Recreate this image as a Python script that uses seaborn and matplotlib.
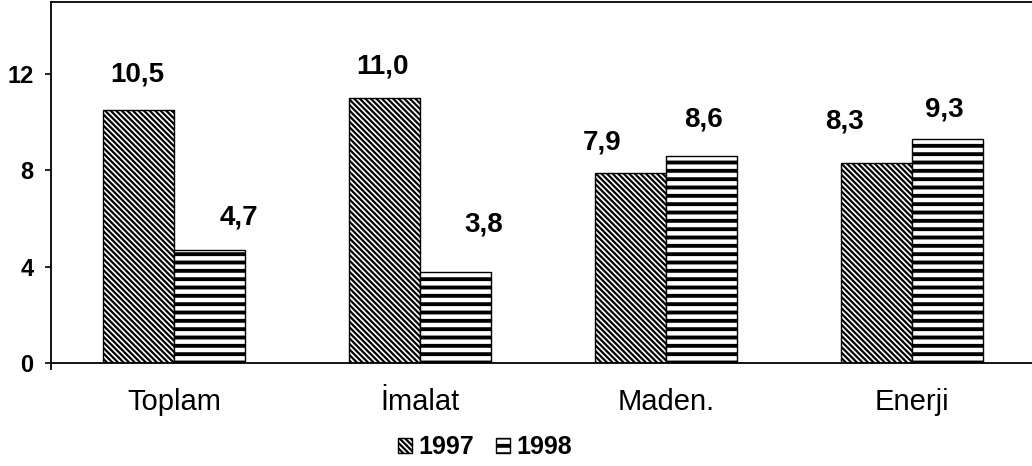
import numpy as np
import pandas as pd
import matplotlib
matplotlib.use('Agg')
from matplotlib import pyplot as plt
import seaborn as sns

sns.set_style('ticks')
plt.rcParams['font.family'] = ['Liberation Sans', 'DejaVu Sans']
plt.rcParams['text.color'] = 'black'
plt.rcParams['xtick.color'] = 'black'
plt.rcParams['ytick.color'] = 'black'
plt.rcParams['hatch.color'] = 'black'

categories = ['Toplam', 'İmalat', 'Maden.', 'Enerji']
years = ['1997', '1998']
v1997 = [10.5, 11.0, 7.9, 8.3]
v1998 = [4.7, 3.8, 8.6, 9.3]
yticks = [0, 4, 8, 12]

# label offsets (pixels) relative to the top centre of each bar
off1997 = [(-1, 29), (-2, 25), (-28, 23), (-32, 35)]
off1998 = [(29, 25), (28, 40), (2, 30), (-3, 23)]

df = pd.DataFrame({
    'kategori': categories * 2,
    'yil': [years[0]] * 4 + [years[1]] * 4,
    'deger': v1997 + v1998,
})

fig = plt.figure(figsize=(10.32, 4.66), dpi=100)
ax = fig.add_axes([51 / 1032, 103 / 466, 984 / 1032, 361 / 466])

sns.barplot(data=df, x='kategori', y='deger', hue='yil', order=categories,
            hue_order=years, palette=['white', 'white'], width=0.58, gap=0,
            edgecolor='black', linewidth=1.0, legend=False, ax=ax)

hatches = ['\\' * 6, '--']
hatch_lw = [1.6, 2.8]
for cont, h, lw in zip(ax.containers, hatches, hatch_lw):
    for p in cont.patches:
        p.set_hatch(h)
        if hasattr(p, 'set_hatch_linewidth'):
            p.set_hatch_linewidth(lw)

for cont, vals, offs in zip(ax.containers, [v1997, v1998], [off1997, off1998]):
    for p, v, (dx, dy) in zip(cont.patches, vals, offs):
        ax.annotate(f'{v:.1f}'.replace('.', ','),
                    (p.get_x() + p.get_width() / 2, p.get_height()),
                    xytext=(dx, dy), textcoords='offset pixels',
                    ha='center', va='baseline', fontsize=20, fontweight='bold')

ax.set_xlim(-0.5, 3.5)
ax.set_ylim(0, 15)
ax.set_yticks(yticks)
ax.set_yticklabels([str(t) for t in yticks], fontsize=17, fontweight='bold')
ax.tick_params(axis='y', length=4.5, width=1.2, pad=8)
ax.tick_params(axis='x', length=0, pad=18, labelsize=21)
ax.set_xlabel('')
ax.set_ylabel('')

for s in ['top', 'left', 'bottom']:
    ax.spines[s].set_linewidth(1.3)
    ax.spines[s].set_color('black')
ax.spines['right'].set_visible(False)
ax.spines['left'].set_bounds(-0.25, 15)

handles = [c.patches[0] for c in ax.containers]
leg = fig.legend(handles, years, loc='center', bbox_to_anchor=(485 / 1032, 19 / 466),
                 ncol=2, frameon=False, handlelength=0.55, handleheight=0.55,
                 handletextpad=0.25, columnspacing=0.9,
                 prop={'family': ['Liberation Sans Narrow', 'Liberation Sans'],
                       'weight': 'bold', 'size': 18})
for lp, lw in zip(leg.get_patches(), hatch_lw):
    if hasattr(lp, 'set_hatch_linewidth'):
        lp.set_hatch_linewidth(lw)

fig.savefig('out.png', dpi=100)
